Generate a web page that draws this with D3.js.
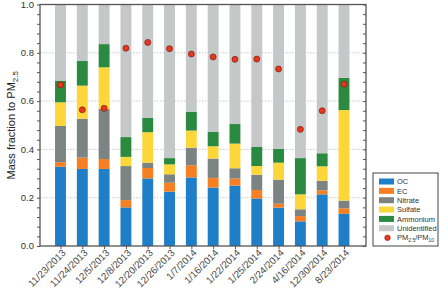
<!DOCTYPE html>
<html>
<head>
<meta charset="utf-8">
<script src="https://cdn.jsdelivr.net/npm/d3@7"></script>
<style>
  body { margin: 0; background: #fff; }
  svg { font-family: "Liberation Sans", Arial, sans-serif; }
</style>
</head>
<body>
<svg id="chart" width="448" height="289"></svg>
<script>
// sampling dates
const dates = ['11/23/2013', '11/24/2013', '12/5/2013', '12/8/2013', '12/20/2013', '12/26/2013',
  '1/7/2014', '1/16/2014', '1/22/2014', '1/25/2014', '2/24/2014', '4/16/2014', '12/30/2014', '8/23/2014'];

// mass fractions of each component (stacked bottom to top)
const oc = [0.328, 0.319, 0.319, 0.160, 0.280, 0.225, 0.284, 0.242, 0.250, 0.197, 0.159, 0.102, 0.214, 0.133];
const ec = [0.019, 0.047, 0.041, 0.030, 0.043, 0.037, 0.050, 0.040, 0.029, 0.035, 0.016, 0.022, 0.017, 0.023];
const nitrate = [0.150, 0.161, 0.207, 0.141, 0.022, 0.035, 0.073, 0.080, 0.043, 0.063, 0.100, 0.028, 0.039, 0.032];
const sulfate = [0.098, 0.137, 0.173, 0.038, 0.126, 0.041, 0.071, 0.051, 0.102, 0.036, 0.070, 0.062, 0.060, 0.375];
const ammonium = [0.090, 0.102, 0.096, 0.082, 0.059, 0.026, 0.078, 0.059, 0.081, 0.079, 0.058, 0.150, 0.054, 0.133];
const unidentified = [0.315, 0.234, 0.164, 0.549, 0.470, 0.636, 0.444, 0.528, 0.495, 0.590, 0.597, 0.636, 0.616, 0.304];

// PM2.5 / PM10 ratio
const ratio = [0.667, 0.564, 0.570, 0.819, 0.843, 0.817, 0.795, 0.783, 0.773, 0.774, 0.733, 0.483, 0.560, 0.670];

const yTicks = [0, 0.2, 0.4, 0.6, 0.8, 1.0];

const keys = ['OC', 'EC', 'Nitrate', 'Sulfate', 'Ammonium', 'Unidentified'];
const colors = ['#1e7fc8', '#f57f22', '#7b8482', '#fdd73a', '#2a8a40', '#c4c8c8'];

const rows = dates.map((d, i) => ({
  date: d,
  OC: oc[i], EC: ec[i], Nitrate: nitrate[i], Sulfate: sulfate[i],
  Ammonium: ammonium[i], Unidentified: unidentified[i], ratio: ratio[i]
}));

const svg = d3.select('#chart');
const plot = { left: 40, right: 366, top: 4.5, bottom: 246 };

const x = d3.scalePoint()
  .domain(dates)
  .range([60.5, 344]);
const barW = x.step() * 0.5;

const y = d3.scaleLinear()
  .domain([0, 1])
  .range([plot.bottom, plot.top]);

// Grid lines
svg.append('g')
  .selectAll('line')
  .data([0.2, 0.4, 0.6, 0.8])
  .enter()
  .append('line')
  .attr('x1', plot.left)
  .attr('x2', plot.right)
  .attr('y1', d => y(d))
  .attr('y2', d => y(d))
  .attr('stroke', '#bbb')
  .attr('stroke-width', 0.8)
  .attr('stroke-dasharray', '1.5,1.5');

// Stacked bars
const series = d3.stack().keys(keys)(rows);
const color = d3.scaleOrdinal().domain(keys).range(colors);

svg.append('g')
  .selectAll('g')
  .data(series)
  .enter()
  .append('g')
  .attr('fill', d => color(d.key))
  .selectAll('rect')
  .data(d => d)
  .enter()
  .append('rect')
  .attr('x', d => x(d.data.date) - barW / 2)
  .attr('width', barW)
  .attr('y', d => y(d[1]))
  .attr('height', d => y(d[0]) - y(d[1]));

// Ratio dots
svg.append('g')
  .selectAll('circle')
  .data(rows)
  .enter()
  .append('circle')
  .attr('cx', d => x(d.date))
  .attr('cy', d => y(d.ratio))
  .attr('r', 3)
  .attr('fill', '#e8361f')
  .attr('stroke', '#7a1c0e')
  .attr('stroke-width', 0.7);

// Axes
const axisColor = '#555';

const leftAxis = svg.append('g')
  .attr('transform', `translate(${plot.left},0)`)
  .call(d3.axisLeft(y).tickValues(d3.range(0, 1.001, 0.04)).tickSize(3).tickFormat(''));
leftAxis.select('.domain').remove();
leftAxis.selectAll('line').attr('stroke', axisColor);

svg.append('g')
  .selectAll('text')
  .data(yTicks)
  .enter()
  .append('text')
  .attr('x', plot.left - 6)
  .attr('y', d => y(d))
  .attr('dy', '0.35em')
  .attr('text-anchor', 'end')
  .style('font-size', '9.5px')
  .style('fill', '#333')
  .text(d3.format('.1f'));

const rightAxis = svg.append('g')
  .attr('transform', `translate(${plot.right},0)`)
  .call(d3.axisLeft(y).tickValues(d3.range(0, 1.001, 0.04)).tickSize(3).tickFormat(''));
rightAxis.select('.domain').remove();
rightAxis.selectAll('line').attr('stroke', axisColor);

const bottomAxis = svg.append('g')
  .attr('transform', `translate(0,${plot.bottom})`)
  .call(d3.axisBottom(x).tickSize(3).tickSizeOuter(0));
bottomAxis.select('.domain').remove();
bottomAxis.selectAll('line').attr('stroke', axisColor);
bottomAxis.selectAll('text')
  .attr('text-anchor', 'end')
  .attr('transform', 'translate(3,5) rotate(-45)')
  .attr('dx', 0)
  .attr('dy', '0.35em')
  .attr('y', 0)
  .attr('x', 0)
  .style('font-size', '9.8px')
  .style('fill', '#444')
  .style('font-family', '"Liberation Sans", Arial, sans-serif');

// Frame
svg.append('rect')
  .attr('x', plot.left)
  .attr('y', plot.top)
  .attr('width', plot.right - plot.left)
  .attr('height', plot.bottom - plot.top)
  .attr('fill', 'none')
  .attr('stroke', axisColor)
  .attr('stroke-width', 1.3);

// Y axis title
const yTitle = svg.append('text')
  .attr('transform', `translate(15,${(plot.top + plot.bottom) / 2}) rotate(-90)`)
  .attr('text-anchor', 'middle')
  .style('font-size', '11px')
  .style('fill', '#222');
yTitle.append('tspan').text('Mass fraction to PM');
yTitle.append('tspan').attr('dy', 2.5).style('font-size', '8px').text('2.5');

// Legend
const legend = svg.append('g').attr('transform', 'translate(373,173)');
legend.append('rect')
  .attr('width', 65)
  .attr('height', 73)
  .attr('fill', '#fff')
  .attr('stroke', '#444')
  .attr('stroke-width', 1);

const step = 9.35;
keys.forEach((k, i) => {
  legend.append('rect')
    .attr('x', 6)
    .attr('y', 5.5 + i * step)
    .attr('width', 15)
    .attr('height', 6)
    .attr('fill', color(k));
  legend.append('text')
    .attr('x', 24)
    .attr('y', 8.7 + i * step)
    .attr('dy', '0.35em')
    .style('font-size', '7.5px')
    .style('fill', '#333')
    .text(k);
});
legend.append('circle')
  .attr('cx', 14.5)
  .attr('cy', 8.7 + 6 * step)
  .attr('r', 2.8)
  .attr('fill', '#e8361f')
  .attr('stroke', '#7a1c0e')
  .attr('stroke-width', 0.5);
const pmText = legend.append('text')
  .attr('x', 24)
  .attr('y', 8.7 + 6 * step)
  .attr('dy', '0.35em')
  .style('font-size', '7.5px')
  .style('fill', '#333');
pmText.append('tspan').text('PM');
pmText.append('tspan').attr('dy', 1.5).style('font-size', '5px').text('2.5');
pmText.append('tspan').attr('dy', -1.5).text('/PM');
pmText.append('tspan').attr('dy', 1.5).style('font-size', '5px').text('10');
</script>
</body>
</html>
